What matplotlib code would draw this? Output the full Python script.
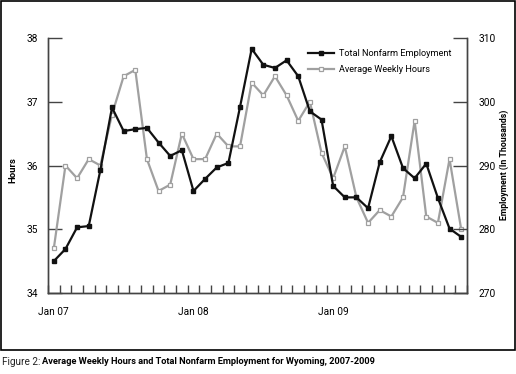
import matplotlib
matplotlib.use('Agg')
import matplotlib.pyplot as plt
import numpy as np
from matplotlib.patches import Rectangle

plt.rcParams['font.family'] = ['Roboto', 'DejaVu Sans']

# monthly values, Jan 2007 - Dec 2009
hours = [34.7, 36.0, 35.8, 36.1, 36.0, 36.8, 37.4, 37.5, 36.1, 35.6, 35.7, 36.5,
         36.1, 36.1, 36.5, 36.3, 36.3, 37.3, 37.1, 37.4, 37.1, 36.7, 37.0, 36.2,
         35.8, 36.3, 35.5, 35.1, 35.3, 35.2, 35.5, 36.7, 35.2, 35.1, 36.1, 35.0]
employment = [275.0, 276.9, 280.3, 280.5, 289.3, 299.1, 295.4, 295.7, 295.9, 293.6, 291.5, 292.4,
              286.0, 287.9, 289.7, 290.4, 299.2, 308.3, 305.8, 305.3, 306.5, 304.0, 298.5, 297.2,
              286.8, 285.0, 285.0, 283.3, 290.5, 294.6, 289.6, 288.0, 290.3, 284.9, 280.1, 278.8]
year_labels = ['Jan 07', 'Jan 08', 'Jan 09']

x = np.arange(len(hours)) + 0.5
axcol = '#444444'
gray = '#a0a0a0'

fig = plt.figure(figsize=(5.16, 3.74), dpi=100)
ax = fig.add_axes([48/516, 1-293/374, (467-48)/516, (293-38)/374])
ax2 = ax.twinx()

lh, = ax.plot(x, hours, color=gray, lw=1.6, marker='s', ms=3.3,
              mfc='white', mec=gray, mew=0.9, label='Average Weekly Hours')
le, = ax2.plot(x, employment, color='#111111', lw=1.6, marker='s', ms=3,
               mfc='#111111', mec='#111111', label='Total Nonfarm Employment')

ax.set_xlim(0, 36)
ax.set_ylim(34, 38)
ax2.set_ylim(270, 310)
ax.set_yticks([34, 35, 36, 37, 38])
ax2.set_yticks([270, 280, 290, 300, 310])

ax.set_xticks([0.5, 12.5, 24.5])
ax.set_xticklabels(year_labels)
ax.set_xticks(np.arange(0, 37), minor=True)
ax.tick_params(axis='x', which='major', length=0, pad=10, labelsize=7.3)
ax.tick_params(axis='x', which='minor', direction='in', length=6, width=1, color=axcol)
ax.tick_params(axis='y', direction='in', length=10, width=1, color=axcol, pad=7, labelsize=7.3)
ax2.tick_params(axis='y', direction='in', length=10, width=1, color=axcol, pad=8, labelsize=7.3)

for a in (ax, ax2):
    a.spines['top'].set_visible(False)
    for s in ('left', 'right', 'bottom'):
        a.spines[s].set_color(axcol)
        a.spines[s].set_linewidth(1)

fig.text(13/516, 1-170/374, 'Hours', rotation=90, ha='center', va='center',
         fontsize=6.8, fontweight='bold')
fig.text(504/516, 1-165/374, 'Employment (In Thousands)', rotation=90, ha='center',
         va='center', fontsize=6.3, fontweight='bold')

ax.legend([le, lh], [le.get_label(), lh.get_label()], loc='upper left',
          bbox_to_anchor=(0.6, 0.99), frameon=False, fontsize=6.6,
          handlelength=2.9, handletextpad=0.5, labelspacing=0.8)

# frame around chart
fig.patches.append(Rectangle((0.5/516, 1-350/374), 514.5/516, 350/374 - 0.5/374,
                             transform=fig.transFigure, fill=False, lw=1.2,
                             edgecolor='black'))

# caption
t1 = fig.text(2/516, 1-362/374, 'Figure 2: ', fontsize=7.2, va='center', color='#222222')
fig.canvas.draw()
bb = t1.get_window_extent(fig.canvas.get_renderer())
fig.text(bb.x1/516 - 1/516, 1-362/374,
         'Average Weekly Hours and Total Nonfarm Employment for Wyoming, 2007-2009',
         fontsize=6.7, fontweight='bold', va='center')

fig.savefig('out.png', dpi=100)
